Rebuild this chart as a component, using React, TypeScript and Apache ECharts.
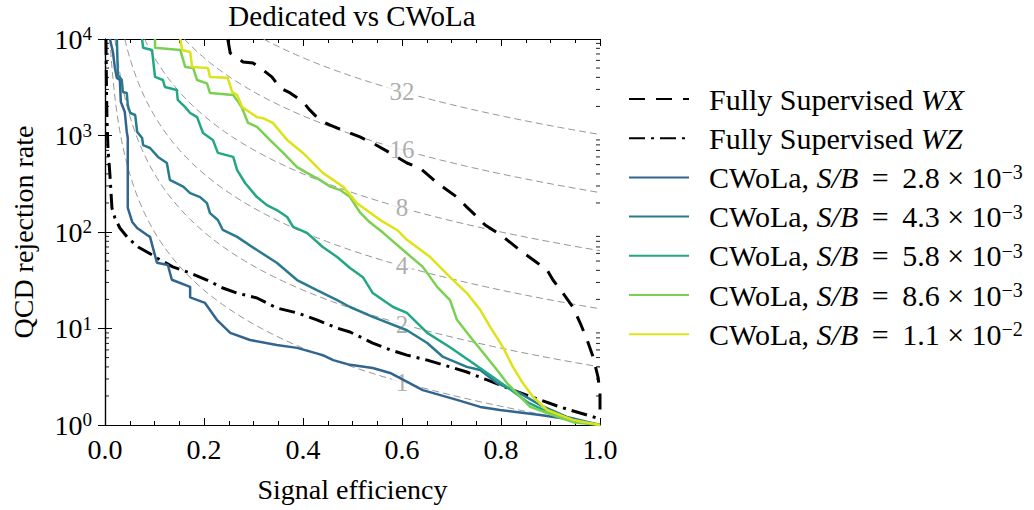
import React, { useEffect, useRef } from "react";
import * as echarts from "echarts";

type Pt = [number, number];

// Fully supervised curves (signal efficiency, QCD rejection)
const FS_WX: Pt[] = [
  [0.248, 10000], [0.253, 7140], [0.279, 5770], [0.299, 5650], [0.319, 4790], [0.337, 4050],
  [0.354, 3100], [0.374, 2760], [0.4, 2230], [0.414, 1830], [0.434, 1440], [0.455, 1280],
  [0.489, 1090], [0.515, 966], [0.541, 833], [0.576, 660], [0.61, 519], [0.636, 460],
  [0.657, 372], [0.671, 322], [0.691, 272], [0.711, 230], [0.731, 181], [0.752, 143],
  [0.768, 118], [0.79, 100], [0.812, 83], [0.838, 65], [0.873, 48], [0.893, 40.6],
  [0.905, 31.8], [0.925, 23.3], [0.945, 16.7], [0.96, 11.4], [0.974, 7.6], [0.986, 5.07],
  [0.996, 3.14], [1.0, 2.14], [1.0, 1.43],
];
const FS_WZ: Pt[] = [
  [0.002, 10000], [0.003, 3000], [0.004, 1500], [0.006, 742], [0.01, 389], [0.014, 178],
  [0.02, 140], [0.03, 110], [0.046, 87], [0.067, 70], [0.095, 58], [0.105, 53.7],
  [0.137, 43.5], [0.172, 37.6], [0.206, 31.8], [0.238, 26.3], [0.267, 23.3], [0.307, 20.7],
  [0.347, 16.3], [0.388, 14.5], [0.428, 12.3], [0.469, 10.1], [0.495, 9.2], [0.509, 8.5],
  [0.541, 7.07], [0.576, 6.0], [0.61, 5.3], [0.651, 4.7], [0.697, 4.0], [0.731, 3.54],
  [0.772, 2.93], [0.824, 2.3], [0.879, 1.82], [0.919, 1.54], [0.96, 1.33], [0.994, 1.18],
];
// CWoLa curves
const CW_28: Pt[] = [
  [0.01, 10000], [0.016, 7330], [0.02, 5010], [0.024, 3940], [0.03, 3760], [0.032, 2230],
  [0.04, 1750], [0.044, 1090], [0.046, 942], [0.046, 178], [0.055, 127], [0.065, 110],
  [0.085, 93], [0.091, 89], [0.097, 68], [0.105, 48], [0.127, 45.5], [0.135, 32],
  [0.172, 27], [0.172, 21], [0.202, 18.4], [0.226, 12.3], [0.253, 9.0], [0.293, 7.6],
  [0.347, 6.75], [0.388, 6.3], [0.44, 5.3], [0.461, 4.7], [0.495, 4.2], [0.541, 3.9],
  [0.576, 3.46], [0.642, 2.3], [0.711, 1.82], [0.758, 1.54], [0.798, 1.43], [0.879, 1.27],
  [0.945, 1.13], [1.0, 1.0],
];
const CW_43: Pt[] = [
  [0.024, 10000], [0.026, 4240], [0.034, 3760], [0.036, 2820], [0.044, 2760], [0.046, 2070],
  [0.051, 1710], [0.061, 1630], [0.065, 1090], [0.075, 942], [0.077, 796], [0.091, 742],
  [0.107, 600], [0.125, 519], [0.131, 347], [0.158, 295], [0.172, 253], [0.192, 230],
  [0.206, 199], [0.212, 157], [0.228, 133], [0.238, 105], [0.267, 89], [0.307, 65],
  [0.347, 48], [0.388, 31.8], [0.428, 25], [0.469, 19.7], [0.495, 16.7], [0.541, 13.2],
  [0.61, 9.6], [0.651, 7.07], [0.683, 5.07], [0.731, 4.0], [0.758, 3.71], [0.792, 2.72],
  [0.838, 2.14], [0.879, 1.61], [0.933, 1.21], [1.0, 1.0],
];
const CW_58: Pt[] = [
  [0.075, 10000], [0.077, 8100], [0.095, 7700], [0.101, 4050], [0.117, 3760], [0.121, 3180],
  [0.145, 2960], [0.147, 2340], [0.162, 1970], [0.172, 1710], [0.186, 1550], [0.198, 1060],
  [0.218, 900], [0.228, 660], [0.259, 600], [0.267, 438], [0.283, 322], [0.307, 230],
  [0.327, 190], [0.347, 169], [0.368, 143], [0.38, 113], [0.408, 98], [0.44, 70],
  [0.469, 55], [0.495, 42.4], [0.521, 34], [0.541, 23.3], [0.582, 16.7], [0.61, 14.5],
  [0.651, 9.0], [0.697, 6.4], [0.743, 4.4], [0.772, 3.46], [0.812, 2.48], [0.853, 1.73],
  [0.899, 1.33], [0.945, 1.13], [1.0, 1.0],
];
const CW_86: Pt[] = [
  [0.101, 10000], [0.101, 8100], [0.152, 7700], [0.162, 5130], [0.178, 5010], [0.186, 3760],
  [0.206, 3470], [0.212, 2760], [0.259, 2630], [0.269, 2230], [0.277, 1930], [0.289, 1350],
  [0.307, 1230], [0.333, 900], [0.36, 660], [0.388, 470], [0.408, 410], [0.434, 347],
  [0.455, 295], [0.475, 272], [0.495, 230], [0.515, 160], [0.535, 126], [0.562, 98],
  [0.602, 65], [0.642, 43.5], [0.671, 27], [0.697, 19.7], [0.711, 12.3], [0.743, 7.6],
  [0.764, 5.6], [0.792, 3.71], [0.812, 2.72], [0.832, 2.14], [0.859, 1.54], [0.893, 1.33],
  [0.945, 1.07], [1.0, 1.0],
];
const CW_110: Pt[] = [
  [0.152, 10000], [0.156, 7700], [0.172, 7330], [0.176, 5130], [0.208, 5010], [0.212, 4050],
  [0.248, 3960], [0.257, 2820], [0.267, 2630], [0.277, 1970], [0.307, 1550], [0.319, 1510],
  [0.339, 1350], [0.368, 900], [0.4, 660], [0.44, 410], [0.481, 295], [0.509, 199],
  [0.556, 133], [0.59, 105], [0.61, 83], [0.657, 55], [0.697, 34], [0.731, 23.3],
  [0.758, 15.6], [0.778, 10.4], [0.804, 6.4], [0.824, 4.0], [0.844, 2.72], [0.865, 1.95],
  [0.893, 1.43], [0.945, 1.13], [1.0, 1.0],
];

const NAMES = [
  "Fully Supervised WX",
  "Fully Supervised WZ",
  "CWoLa, S/B = 2.8 × 10^-3",
  "CWoLa, S/B = 4.3 × 10^-3",
  "CWoLa, S/B = 5.8 × 10^-3",
  "CWoLa, S/B = 8.6 × 10^-3",
  "CWoLa, S/B = 1.1 × 10^-2",
];
const CWOLA_MANT = ["2.8", "4.3", "5.8", "8.6", "1.1"];
const CWOLA_EXP = ["−3", "−3", "−3", "−3", "−2"];
const COLORS = ["#31658f", "#297a8e", "#22a785", "#7ad151", "#dde318"];

// Significance-improvement levels of the grey guide curves (eff_S / sqrt(eff_B) = k)
const SIG_LEVELS = [1, 2, 4, 8, 16, 32];
const SIG_LABEL_X = 0.6;
const Y_DECADES = [0, 1, 2, 3];
const Y_MINOR_MULT = [2, 3, 4, 5, 6, 7, 8, 9];

const FONT = "'Liberation Serif', 'Times New Roman', serif";

function guideCurve(k: number): Pt[] {
  const pts: Pt[] = [];
  const x0 = k / 100;
  const n = 80;
  for (let i = 0; i <= n; i++) {
    const x = x0 * Math.pow(1 / x0, i / n);
    pts.push([x, (k * k) / (x * x)]);
  }
  return pts;
}

export default function App() {
  const ref = useRef<HTMLDivElement>(null);
  useEffect(() => {
    document.body.style.margin = "0";
    if (!ref.current) return;
    const chart = echarts.init(ref.current, undefined, { renderer: "svg" });

    const minorTicks: number[] = [];
    Y_DECADES.forEach((d) => Y_MINOR_MULT.forEach((m) => minorTicks.push(m * Math.pow(10, d))));

    const guideSeries = SIG_LEVELS.map((k) => ({
      type: "line",
      data: guideCurve(k),
      showSymbol: false,
      symbol: "none",
      silent: true,
      z: 1,
      lineStyle: { color: "#8a8a8a", width: 0.9, type: [7, 4] },
      emphasis: { disabled: true },
    }));

    const labelSeries = {
      type: "scatter",
      silent: true,
      z: 2,
      symbolSize: 0,
      data: SIG_LEVELS.map((k) => [SIG_LABEL_X, (k * k) / (SIG_LABEL_X * SIG_LABEL_X), k]),
      label: {
        show: true,
        position: "inside",
        formatter: (p: any) => String(p.data[2]),
        color: "#999999",
        fontSize: 25,
        fontFamily: FONT,
        backgroundColor: "#ffffff",
        padding: [0, 4, 0, 4],
      },
    };

    const mainData = [FS_WX, FS_WZ, CW_28, CW_43, CW_58, CW_86, CW_110];
    const mainSeries = mainData.map((d, i) => {
      const isWX = i === 0;
      const isWZ = i === 1;
      const color = i < 2 ? "#000000" : COLORS[i - 2];
      return {
        name: NAMES[i],
        type: "line",
        data: d,
        showSymbol: false,
        symbol: "none",
        z: 3,
        lineStyle: {
          color,
          width: i < 2 ? 3 : 2.5,
          type: isWX ? [16, 11] : isWZ ? [16, 6, 3, 6] : "solid",
        },
        itemStyle: { color },
        emphasis: { disabled: true },
      };
    });

    const tickSeries = [0, 1].map((side) => ({
      type: "scatter",
      silent: true,
      z: 5,
      symbol: "rect",
      symbolSize: [4, 1.1],
      symbolOffset: [side === 0 ? 2 : -2, 0],
      itemStyle: { color: "#000" },
      data: minorTicks.map((v) => [side, v]),
    }));

    const legendFormatter = (name: string) => {
      const i = NAMES.indexOf(name);
      if (i === 0) return "Fully Supervised {i|WX}";
      if (i === 1) return "Fully Supervised {i|WZ}";
      const j = i - 2;
      return `CWoLa, {i|S/B}\u2009 = \u2009${CWOLA_MANT[j]} × 10{sup|${CWOLA_EXP[j]}}`;
    };

    const axisCommon = {
      axisLine: { lineStyle: { color: "#000", width: 1.2 } },
      axisTick: { inside: true, length: 7, lineStyle: { color: "#000", width: 1 } },
      splitLine: { show: false },
    };

    chart.setOption({
      animation: false,
      backgroundColor: "#ffffff",
      title: {
        text: "Dedicated vs CWoLa",
        left: 352,
        top: 1,
        textAlign: "center",
        padding: 0,
        textStyle: { fontFamily: FONT, fontWeight: "normal", fontSize: 29, color: "#000" },
      },
      grid: { left: 105, top: 39, width: 495, height: 386, containLabel: false },
      xAxis: [
        {
          type: "value",
          min: 0,
          max: 1,
          interval: 0.2,
          name: "Signal efficiency",
          nameLocation: "middle",
          nameGap: 50,
          nameTextStyle: { fontFamily: FONT, fontSize: 28, color: "#000" },
          ...axisCommon,
          minorTick: { show: true, splitNumber: 4, length: 4, lineStyle: { color: "#000", width: 1 } },
          axisLabel: {
            fontFamily: FONT,
            fontSize: 28,
            color: "#000",
            margin: 10,
            formatter: (v: number) => v.toFixed(1),
          },
        },
        {
          type: "value",
          position: "top",
          min: 0,
          max: 1,
          interval: 0.2,
          ...axisCommon,
          minorTick: { show: true, splitNumber: 4, length: 4, lineStyle: { color: "#000", width: 1 } },
          axisLabel: { show: false },
        },
      ],
      yAxis: [
        {
          type: "log",
          logBase: 10,
          min: 1,
          max: 10000,
          name: "QCD rejection rate",
          nameLocation: "middle",
          nameGap: 68,
          nameTextStyle: { fontFamily: FONT, fontSize: 28, color: "#000" },
          ...axisCommon,
          axisLabel: {
            margin: 13,
            formatter: (v: number) => `{b|10}{s|${Math.round(Math.log10(v))}}`,
            rich: {
              b: { fontFamily: FONT, fontSize: 28, color: "#000", lineHeight: 30 },
              s: { fontFamily: FONT, fontSize: 19, color: "#000", lineHeight: 18, verticalAlign: "top" },
            },
          },
        },
        {
          type: "log",
          logBase: 10,
          min: 1,
          max: 10000,
          position: "right",
          ...axisCommon,
          axisLabel: { show: false },
        },
      ],
      legend: {
        orient: "vertical",
        left: 628,
        top: 84,
        padding: 0,
        itemWidth: 60,
        itemHeight: 14,
        itemGap: 9.2,
        data: NAMES,
        formatter: legendFormatter,
        selectedMode: false,
        itemStyle: { opacity: 0 },
        textStyle: {
          fontFamily: FONT,
          fontSize: 30,
          color: "#000",
          lineHeight: 30,
          padding: [0, 0, 0, 15],
          rich: {
            i: { fontFamily: FONT, fontSize: 30, fontStyle: "italic", color: "#000", lineHeight: 30 },
            sup: { fontFamily: FONT, fontSize: 20, color: "#000", lineHeight: 18, verticalAlign: "top" },
          },
        },
      },
      series: [...guideSeries, labelSeries, ...mainSeries, ...tickSeries],
    });

    return () => chart.dispose();
  }, []);

  return <div ref={ref} style={{ width: 1034, height: 510 }} />;
}
